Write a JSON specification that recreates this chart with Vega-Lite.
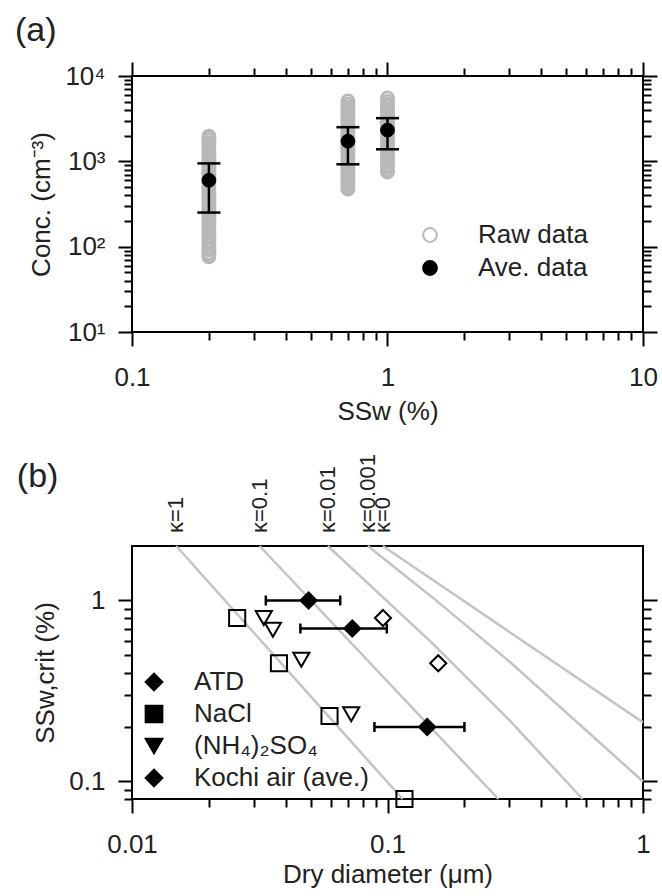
{
  "$schema": "https://vega.github.io/schema/vega-lite/v6.json",
  "background": "white",
  "padding": {"left": 13, "top": 13, "right": 0, "bottom": 0},
  "spacing": 28,
  "config": {
    "font": "Liberation Sans",
    "view": {"stroke": "black", "strokeWidth": 2},
    "axis": {
      "domain": false, "grid": false, "tickColor": "black", "tickWidth": 2,
      "labelFont": "Liberation Sans", "labelFontSize": 26, "labelColor": "#222",
      "titleFont": "Liberation Sans", "titleFontSize": 26, "titleFontWeight": "normal", "titleColor": "#222",
      "labelFlush": false, "labelOverlap": false
    },
    "legend": {"labelFont": "Liberation Sans", "labelFontSize": 26, "labelColor": "#222", "labelLimit": 400},
    "title": {"font": "Liberation Sans", "fontSize": 34, "fontWeight": "normal", "color": "#222"}
  },
  "datasets": {
    "raw": [
      {"ssw":0.2,"conc":76},{"ssw":0.2,"conc":81},{"ssw":0.2,"conc":84},{"ssw":0.2,"conc":92},{"ssw":0.2,"conc":96},{"ssw":0.2,"conc":104},{"ssw":0.2,"conc":111},{"ssw":0.2,"conc":117},{"ssw":0.2,"conc":127},{"ssw":0.2,"conc":133},{"ssw":0.2,"conc":145},{"ssw":0.2,"conc":152},{"ssw":0.2,"conc":166},{"ssw":0.2,"conc":174},{"ssw":0.2,"conc":189},{"ssw":0.2,"conc":198},{"ssw":0.2,"conc":215},{"ssw":0.2,"conc":226},{"ssw":0.2,"conc":245},{"ssw":0.2,"conc":258},{"ssw":0.2,"conc":279},{"ssw":0.2,"conc":294},{"ssw":0.2,"conc":318},{"ssw":0.2,"conc":336},{"ssw":0.2,"conc":364},{"ssw":0.2,"conc":383},{"ssw":0.2,"conc":415},{"ssw":0.2,"conc":437},{"ssw":0.2,"conc":473},{"ssw":0.2,"conc":499},{"ssw":0.2,"conc":540},{"ssw":0.2,"conc":570},{"ssw":0.2,"conc":616},{"ssw":0.2,"conc":650},{"ssw":0.2,"conc":702},{"ssw":0.2,"conc":741},{"ssw":0.2,"conc":800},{"ssw":0.2,"conc":846},{"ssw":0.2,"conc":912},{"ssw":0.2,"conc":966},{"ssw":0.2,"conc":1040},{"ssw":0.2,"conc":1102},{"ssw":0.2,"conc":1188},{"ssw":0.2,"conc":1255},{"ssw":0.2,"conc":1352},{"ssw":0.2,"conc":1433},{"ssw":0.2,"conc":1545},{"ssw":0.2,"conc":1635},{"ssw":0.2,"conc":1760},{"ssw":0.2,"conc":1865},{"ssw":0.2,"conc":1975},
      {"ssw":0.7,"conc":474},{"ssw":0.7,"conc":496},{"ssw":0.7,"conc":533},{"ssw":0.7,"conc":562},{"ssw":0.7,"conc":605},{"ssw":0.7,"conc":640},{"ssw":0.7,"conc":688},{"ssw":0.7,"conc":728},{"ssw":0.7,"conc":781},{"ssw":0.7,"conc":826},{"ssw":0.7,"conc":889},{"ssw":0.7,"conc":940},{"ssw":0.7,"conc":1010},{"ssw":0.7,"conc":1068},{"ssw":0.7,"conc":1148},{"ssw":0.7,"conc":1213},{"ssw":0.7,"conc":1304},{"ssw":0.7,"conc":1380},{"ssw":0.7,"conc":1481},{"ssw":0.7,"conc":1568},{"ssw":0.7,"conc":1684},{"ssw":0.7,"conc":1782},{"ssw":0.7,"conc":1914},{"ssw":0.7,"conc":2026},{"ssw":0.7,"conc":2176},{"ssw":0.7,"conc":2303},{"ssw":0.7,"conc":2472},{"ssw":0.7,"conc":2618},{"ssw":0.7,"conc":2810},{"ssw":0.7,"conc":2975},{"ssw":0.7,"conc":3195},{"ssw":0.7,"conc":3382},{"ssw":0.7,"conc":3631},{"ssw":0.7,"conc":3845},{"ssw":0.7,"conc":4128},{"ssw":0.7,"conc":4370},{"ssw":0.7,"conc":4690},{"ssw":0.7,"conc":5090},
      {"ssw":1.0,"conc":750},{"ssw":1.0,"conc":788},{"ssw":1.0,"conc":850},{"ssw":1.0,"conc":902},{"ssw":1.0,"conc":975},{"ssw":1.0,"conc":1034},{"ssw":1.0,"conc":1119},{"ssw":1.0,"conc":1186},{"ssw":1.0,"conc":1282},{"ssw":1.0,"conc":1360},{"ssw":1.0,"conc":1471},{"ssw":1.0,"conc":1560},{"ssw":1.0,"conc":1686},{"ssw":1.0,"conc":1790},{"ssw":1.0,"conc":1934},{"ssw":1.0,"conc":2052},{"ssw":1.0,"conc":2217},{"ssw":1.0,"conc":2354},{"ssw":1.0,"conc":2542},{"ssw":1.0,"conc":2700},{"ssw":1.0,"conc":2915},{"ssw":1.0,"conc":3096},{"ssw":1.0,"conc":3340},{"ssw":1.0,"conc":3552},{"ssw":1.0,"conc":3830},{"ssw":1.0,"conc":4073},{"ssw":1.0,"conc":4390},{"ssw":1.0,"conc":4672},{"ssw":1.0,"conc":5040},{"ssw":1.0,"conc":5520}
    ],
    "ave": [
      {"ssw":0.2,"mean":600,"lo":251,"hi":946},
      {"ssw":0.7,"mean":1720,"lo":923,"hi":2512},
      {"ssw":1.0,"mean":2320,"lo":1384,"hi":3206}
    ],
    "kappa": [
      {"kappa":"κ=1","d":0.0149,"s":2.0},{"kappa":"κ=1","d":0.1145,"s":0.08},
      {"kappa":"κ=0.1","d":0.0316,"s":2.0},{"kappa":"κ=0.1","d":0.2715,"s":0.08},
      {"kappa":"κ=0.01","d":0.0584,"s":2.0},{"kappa":"κ=0.01","d":0.15,"s":0.58},{"kappa":"κ=0.01","d":0.3,"s":0.218},{"kappa":"κ=0.01","d":0.58,"s":0.08},
      {"kappa":"κ=0.001","d":0.0838,"s":2.0},{"kappa":"κ=0.001","d":0.15,"s":1.04},{"kappa":"κ=0.001","d":0.3,"s":0.46},{"kappa":"κ=0.001","d":1.0,"s":0.1},
      {"kappa":"κ=0","d":0.0959,"s":2.0},{"kappa":"κ=0","d":0.3,"s":0.67},{"kappa":"κ=0","d":1.0,"s":0.212}
    ],
    "pts": [
      {"type":"ATD","d":0.096,"s":0.8},{"type":"ATD","d":0.158,"s":0.45},
      {"type":"NaCl","d":0.0258,"s":0.8},{"type":"NaCl","d":0.0376,"s":0.45},{"type":"NaCl","d":0.0593,"s":0.23},{"type":"NaCl","d":0.1165,"s":0.08},
      {"type":"(NH₄)₂SO₄","d":0.0328,"s":0.8},{"type":"(NH₄)₂SO₄","d":0.0356,"s":0.69},{"type":"(NH₄)₂SO₄","d":0.046,"s":0.47},{"type":"(NH₄)₂SO₄","d":0.0721,"s":0.235},
      {"type":"Kochi air (ave.)","d":0.0491,"s":1.0,"lo":0.0334,"hi":0.0653},
      {"type":"Kochi air (ave.)","d":0.0728,"s":0.7,"lo":0.0456,"hi":0.0994},
      {"type":"Kochi air (ave.)","d":0.143,"s":0.2,"lo":0.0889,"hi":0.2}
    ]
  },
  "vconcat": [
    {
      "width": 511, "height": 256,
      "title": {"text": "(a)", "anchor": "start", "frame": "bounds", "dx": -14, "dy": -9},
      "resolve": {"axis": {"x": "independent", "y": "independent"}},
      "layer": [
        {
          "data": {"name": "raw"},
          "mark": {"type": "point", "filled": true, "size": 150, "strokeWidth": 2.6, "opacity": 1},
          "encoding": {
            "x": {"field": "ssw", "type": "quantitative", "scale": {"type": "log", "domain": [0.1, 10], "nice": false},
                  "axis": {"orient": "bottom", "values": [0.1, 1, 10], "format": "~g", "tickSize": 14, "labelPadding": 18, "title": "SSw (%)", "titlePadding": 8}},
            "y": {"field": "conc", "type": "quantitative", "scale": {"type": "log", "domain": [10, 10000], "nice": false},
                  "axis": {"orient": "left", "values": [10, 100, 1000, 10000], "tickSize": 14, "labelPadding": 13,
                           "labelExpr": "datum.value == 10 ? '10¹' : datum.value == 100 ? '10²' : datum.value == 1000 ? '10³' : '10⁴'",
                           "title": "Conc. (cm⁻³)", "titlePadding": 10}},
            "fill": {"datum": "Raw data", "type": "nominal",
                     "scale": {"domain": ["Raw data", "Ave. data"], "range": ["transparent", "black"]},
                     "legend": {"title": null, "orient": "none", "legendX": 285, "legendY": 146, "padding": 0, "labelOffset": 35,
                                "rowPadding": 7, "symbolType": "circle", "symbolSize": 190, "symbolStrokeWidth": 2}},
            "stroke": {"datum": "Raw data", "type": "nominal",
                       "scale": {"domain": ["Raw data", "Ave. data"], "range": ["#b8b8b8", "black"]},
                       "legend": {"title": null, "orient": "none", "legendX": 285, "legendY": 146, "padding": 0, "labelOffset": 35,
                                  "rowPadding": 7, "symbolType": "circle", "symbolSize": 190, "symbolStrokeWidth": 2}}
          }
        },
        {
          "data": {"name": "ave"},
          "mark": {"type": "rule", "color": "black", "strokeWidth": 2.5},
          "encoding": {
            "x": {"field": "ssw", "type": "quantitative", "scale": {"type": "log", "domain": [0.1, 10], "nice": false},
                  "axis": {"orient": "bottom", "values": [0.2,0.3,0.4,0.5,0.6,0.7,0.8,0.9,2,3,4,5,6,7,8,9], "tickSize": 8, "labels": false, "title": null}},
            "y": {"field": "lo", "type": "quantitative", "scale": {"type": "log", "domain": [10, 10000], "nice": false},
                  "axis": {"orient": "left", "values": [20,30,40,50,60,70,80,90,200,300,400,500,600,700,800,900,2000,3000,4000,5000,6000,7000,8000,9000], "tickSize": 8, "labels": false, "title": null}},
            "y2": {"field": "hi"}
          }
        },
        {
          "data": {"name": "ave"},
          "transform": [{"fold": ["lo", "hi"], "as": ["bound", "val"]}],
          "mark": {"type": "tick", "orient": "horizontal", "color": "black", "size": 23, "thickness": 2.5, "opacity": 1},
          "encoding": {
            "x": {"field": "ssw", "type": "quantitative", "scale": {"type": "log", "domain": [0.1, 10], "nice": false},
                  "axis": {"orient": "top", "values": [0.1, 1, 10], "tickSize": 14, "labels": false, "title": null}},
            "y": {"field": "val", "type": "quantitative", "scale": {"type": "log", "domain": [10, 10000], "nice": false},
                  "axis": {"orient": "right", "values": [10, 100, 1000, 10000], "tickSize": 14, "labels": false, "title": null}}
          }
        },
        {
          "data": {"name": "ave"},
          "mark": {"type": "point", "filled": true, "size": 190, "strokeWidth": 1, "opacity": 1},
          "encoding": {
            "x": {"field": "ssw", "type": "quantitative", "scale": {"type": "log", "domain": [0.1, 10], "nice": false},
                  "axis": {"orient": "top", "values": [0.2,0.3,0.4,0.5,0.6,0.7,0.8,0.9,2,3,4,5,6,7,8,9], "tickSize": 8, "labels": false, "title": null}},
            "y": {"field": "mean", "type": "quantitative", "scale": {"type": "log", "domain": [10, 10000], "nice": false},
                  "axis": {"orient": "right", "values": [20,30,40,50,60,70,80,90,200,300,400,500,600,700,800,900,2000,3000,4000,5000,6000,7000,8000,9000], "tickSize": 8, "labels": false, "title": null}},
            "fill": {"datum": "Ave. data", "type": "nominal",
                     "scale": {"domain": ["Raw data", "Ave. data"], "range": ["transparent", "black"]},
                     "legend": {"title": null, "orient": "none", "legendX": 285, "legendY": 146, "padding": 0, "labelOffset": 35,
                                "rowPadding": 7, "symbolType": "circle", "symbolSize": 190, "symbolStrokeWidth": 2}},
            "stroke": {"datum": "Ave. data", "type": "nominal",
                       "scale": {"domain": ["Raw data", "Ave. data"], "range": ["#b8b8b8", "black"]},
                       "legend": {"title": null, "orient": "none", "legendX": 285, "legendY": 146, "padding": 0, "labelOffset": 35,
                                  "rowPadding": 7, "symbolType": "circle", "symbolSize": 190, "symbolStrokeWidth": 2}}
          }
        }
      ]
    },
    {
      "width": 511, "height": 253,
      "title": {"text": "(b)", "anchor": "start", "frame": "bounds", "dx": -16, "dy": 44},
      "resolve": {"axis": {"x": "independent", "y": "independent"}},
      "layer": [
        {
          "data": {"name": "kappa"},
          "mark": {"type": "line", "color": "#c4c4c4", "strokeWidth": 2.5},
          "encoding": {
            "x": {"field": "d", "type": "quantitative", "scale": {"type": "log", "domain": [0.01, 1], "nice": false},
                  "axis": {"orient": "bottom", "values": [0.01, 0.1, 1], "format": "~g", "tickSize": 14, "labelPadding": 18, "title": "Dry diameter (μm)", "titlePadding": 4}},
            "y": {"field": "s", "type": "quantitative", "scale": {"type": "log", "domain": [0.08, 2], "nice": false},
                  "axis": {"orient": "left", "values": [0.1, 1], "format": "~g", "tickSize": 14, "labelPadding": 13, "title": "SSw,crit (%)", "titlePadding": 10}},
            "detail": {"field": "kappa", "type": "nominal"}
          }
        },
        {
          "data": {"name": "kappa"},
          "transform": [{"filter": "datum.s == 2"}],
          "mark": {"type": "text", "angle": 270, "align": "left", "baseline": "middle", "dx": 13, "fontSize": 22, "font": "Liberation Sans", "color": "#222"},
          "encoding": {
            "x": {"field": "d", "type": "quantitative", "scale": {"type": "log", "domain": [0.01, 1], "nice": false},
                  "axis": {"orient": "bottom", "values": [0.02,0.03,0.04,0.05,0.06,0.07,0.08,0.09,0.2,0.3,0.4,0.5,0.6,0.7,0.8,0.9], "tickSize": 8, "labels": false, "title": null}},
            "y": {"field": "s", "type": "quantitative", "scale": {"type": "log", "domain": [0.08, 2], "nice": false},
                  "axis": {"orient": "left", "values": [0.08,0.09,0.2,0.3,0.4,0.5,0.6,0.7,0.8,0.9], "tickSize": 8, "labels": false, "title": null}},
            "text": {"field": "kappa", "type": "nominal"}
          }
        },
        {
          "data": {"name": "pts"},
          "transform": [{"filter": "isValid(datum.lo)"}],
          "mark": {"type": "rule", "color": "black", "strokeWidth": 2.5},
          "encoding": {
            "x": {"field": "lo", "type": "quantitative", "scale": {"type": "log", "domain": [0.01, 1], "nice": false}, "axis": null},
            "x2": {"field": "hi"},
            "y": {"field": "s", "type": "quantitative", "scale": {"type": "log", "domain": [0.08, 2], "nice": false},
                  "axis": {"orient": "right", "values": [0.1, 1], "tickSize": 14, "labels": false, "title": null}}
          }
        },
        {
          "data": {"name": "pts"},
          "transform": [{"filter": "isValid(datum.lo)"}, {"fold": ["lo", "hi"], "as": ["bound", "val"]}],
          "mark": {"type": "tick", "orient": "vertical", "color": "black", "size": 10, "thickness": 2.5, "opacity": 1},
          "encoding": {
            "x": {"field": "val", "type": "quantitative", "scale": {"type": "log", "domain": [0.01, 1], "nice": false}, "axis": null},
            "y": {"field": "s", "type": "quantitative", "scale": {"type": "log", "domain": [0.08, 2], "nice": false},
                  "axis": {"orient": "right", "values": [0.08,0.09,0.2,0.3,0.4,0.5,0.6,0.7,0.8,0.9], "tickSize": 8, "labels": false, "title": null}}
          }
        },
        {
          "data": {"name": "pts"},
          "mark": {"type": "point", "filled": true, "fill": "black", "stroke": "black", "strokeWidth": 2, "size": 260, "opacity": 1},
          "encoding": {
            "x": {"field": "d", "type": "quantitative", "scale": {"type": "log", "domain": [0.01, 1], "nice": false}, "axis": null},
            "y": {"field": "s", "type": "quantitative", "scale": {"type": "log", "domain": [0.08, 2], "nice": false}, "axis": null},
            "shape": {"field": "type", "type": "nominal",
                      "scale": {"domain": ["ATD", "NaCl", "(NH₄)₂SO₄", "Kochi air (ave.)"], "range": ["diamond", "square", "triangle-down", "diamond"]},
                      "legend": {"title": null, "orient": "none", "legendX": 9, "legendY": 593, "padding": 0, "labelOffset": 27,
                                 "rowPadding": 6, "symbolSize": 280, "symbolStrokeWidth": 2,
                                 "encode": {"symbols": {
                                   "fillOpacity": {"condition": {"test": "datum.value === 'Kochi air (ave.)'", "value": 1}, "value": 0},
                                   "stroke": {"value": "black"},
                                   "strokeWidth": {"value": 2}
                                 }}}},
            "fillOpacity": {"field": "type", "type": "nominal",
                            "scale": {"type": "ordinal", "domain": ["ATD", "NaCl", "(NH₄)₂SO₄", "Kochi air (ave.)"], "range": [0, 0, 0, 1]},
                            "legend": {"title": null, "orient": "none", "legendX": 9, "legendY": 593, "padding": 0, "labelOffset": 27,
                                       "rowPadding": 6, "symbolSize": 280, "symbolStrokeWidth": 2,
                                       "encode": {"symbols": {
                                         "fillOpacity": {"condition": {"test": "datum.value === 'Kochi air (ave.)'", "value": 1}, "value": 0},
                                         "stroke": {"value": "black"},
                                         "strokeWidth": {"value": 2}
                                       }}}}
          }
        }
      ]
    }
  ]
}
